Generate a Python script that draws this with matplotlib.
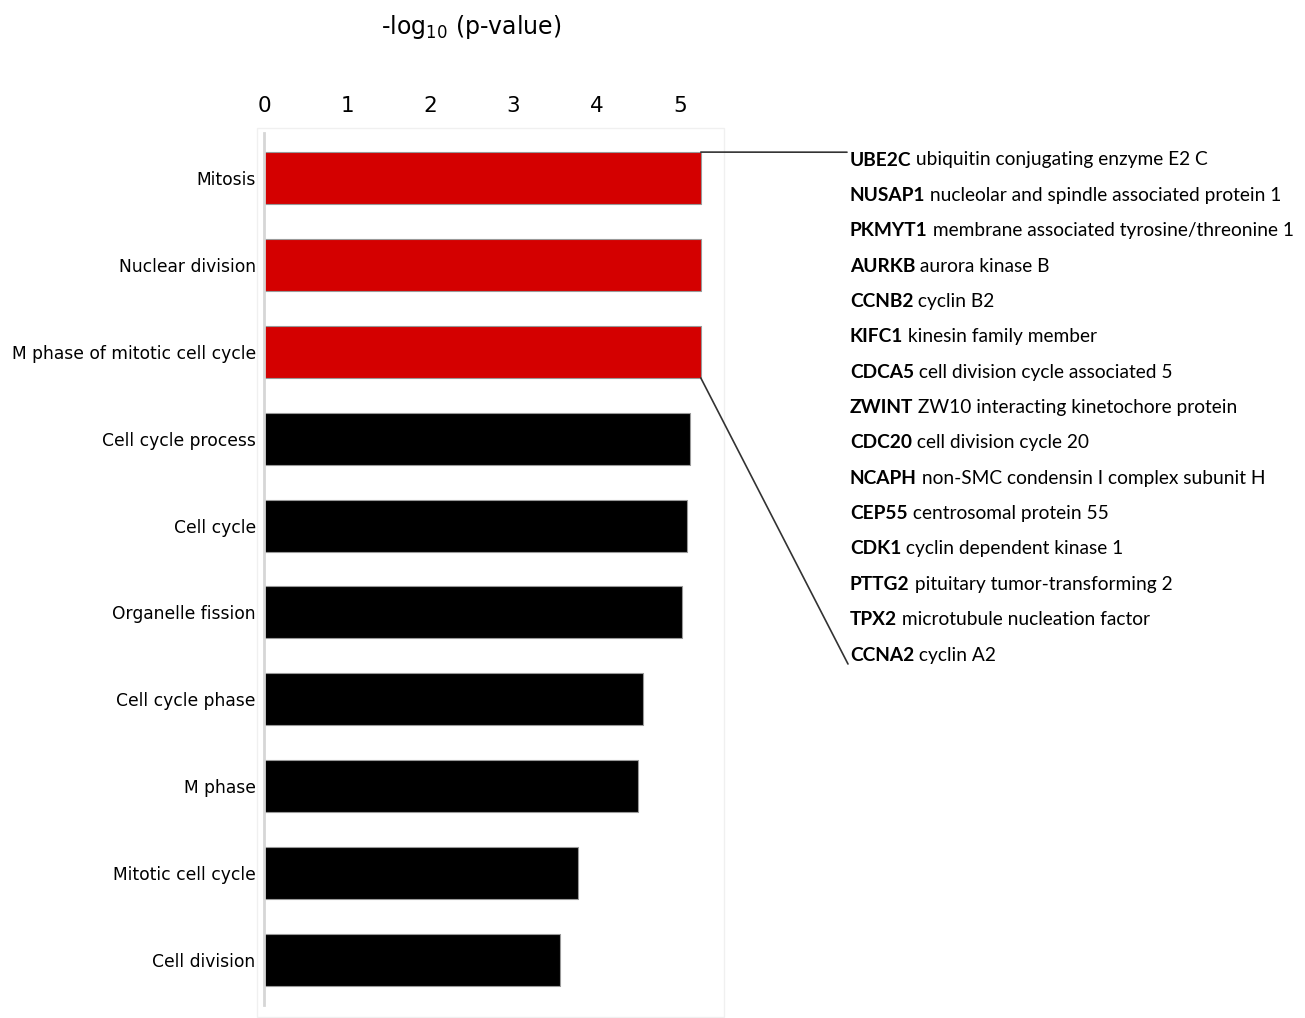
import matplotlib
matplotlib.use("Agg")
import matplotlib.pyplot as plt
from matplotlib.patches import ConnectionPatch, Rectangle

# GO terms and -log10(p) values, top to bottom
terms = ["Mitosis", "Nuclear division", "M phase of mitotic cell cycle",
         "Cell cycle process", "Cell cycle", "Organelle fission",
         "Cell cycle phase", "M phase", "Mitotic cell cycle", "Cell division"]
neglogp = [5.25, 5.25, 5.25, 5.12, 5.09, 5.02, 4.55, 4.50, 3.78, 3.56]
highlight = [True, True, True, False, False, False, False, False, False, False]

genes = ["UBE2C", "NUSAP1", "PKMYT1", "AURKB", "CCNB2", "KIFC1", "CDCA5",
         "ZWINT", "CDC20", "NCAPH", "CEP55", "CDK1", "PTTG2", "TPX2", "CCNA2"]
gene_desc = ["ubiquitin conjugating enzyme E2 C",
             "nucleolar and spindle associated protein 1",
             "membrane associated tyrosine/threonine 1",
             "aurora kinase B",
             "cyclin B2",
             "kinesin family member",
             "cell division cycle associated 5",
             "ZW10 interacting kinetochore protein",
             "cell division cycle 20",
             "non-SMC condensin I complex subunit H",
             "centrosomal protein 55",
             "cyclin dependent kinase 1",
             "pituitary tumor-transforming 2",
             "microtubule nucleation factor",
             "cyclin A2"]
xticks = [0, 1, 2, 3, 4, 5]

axis_font = ["DejaVu Sans"]
gene_font = ["Lato", "DejaVu Sans"]

W, H = 1305, 1018
fig = plt.figure(figsize=(W / 100, H / 100), dpi=100)
ax = fig.add_axes([264 / W, 1 - 1005 / H, 460 / W, 872 / H])

ypos = list(range(len(terms)))
colors = ["#d40000" if h else "black" for h in highlight]
ax.barh(ypos, neglogp, height=0.6, color=colors, edgecolor="#999999", linewidth=0.8)

ax.set_xlim(0, 460 / 83.2)
ax.set_ylim(len(terms) - 0.48, -0.52)
ax.xaxis.tick_top()
ax.set_xticks(xticks)
ax.set_xticklabels([str(t) for t in xticks], family=axis_font, fontsize=15.5)
ax.set_yticks(ypos)
ax.set_yticklabels(terms, family=axis_font, fontsize=12.3)
ax.tick_params(axis="x", length=0, pad=12)
ax.tick_params(axis="y", length=0, pad=6)
for s in ["top", "right", "bottom"]:
    ax.spines[s].set_visible(False)
ax.spines["left"].set_color("#d6d6d6")
ax.spines["left"].set_linewidth(2)

# faint frame round the plot
fig.patches.append(Rectangle((257 / W, 0.001), 467 / W, 1 - 128 / H - 0.001,
                             transform=fig.transFigure, fill=False,
                             edgecolor="#f0f0f0", linewidth=1, zorder=0))

fig.text(471 / W, 1 - 27 / H, r"-log$_{10}$ (p-value)", family=axis_font,
         fontsize=17, ha="center", va="center")

# gene list to the right
row0, step = 160, 35.36
for i, (g, d) in enumerate(zip(genes, gene_desc)):
    t = fig.text(850 / W, 1 - (row0 + i * step) / H, g, family=gene_font,
                 fontsize=13.8, fontweight="bold", ha="left", va="center")
    ax.annotate(" " + d, xy=(1, 0), xycoords=t, ha="left", va="bottom",
                family=gene_font, fontsize=13.8, annotation_clip=False)

# bracket lines from the red bars to the gene list
top = ConnectionPatch(xyA=(neglogp[0], -0.3), coordsA=ax.transData,
                      xyB=(847 / W, 1 - 152.2 / H), coordsB=fig.transFigure,
                      color="#333333", linewidth=1.2, zorder=5)
bot = ConnectionPatch(xyA=(neglogp[2], 2.3), coordsA=ax.transData,
                      xyB=(848 / W, 1 - 664 / H), coordsB=fig.transFigure,
                      color="#333333", linewidth=1.2, zorder=5)
fig.add_artist(top)
fig.add_artist(bot)

fig.savefig("out.png", dpi=100)
